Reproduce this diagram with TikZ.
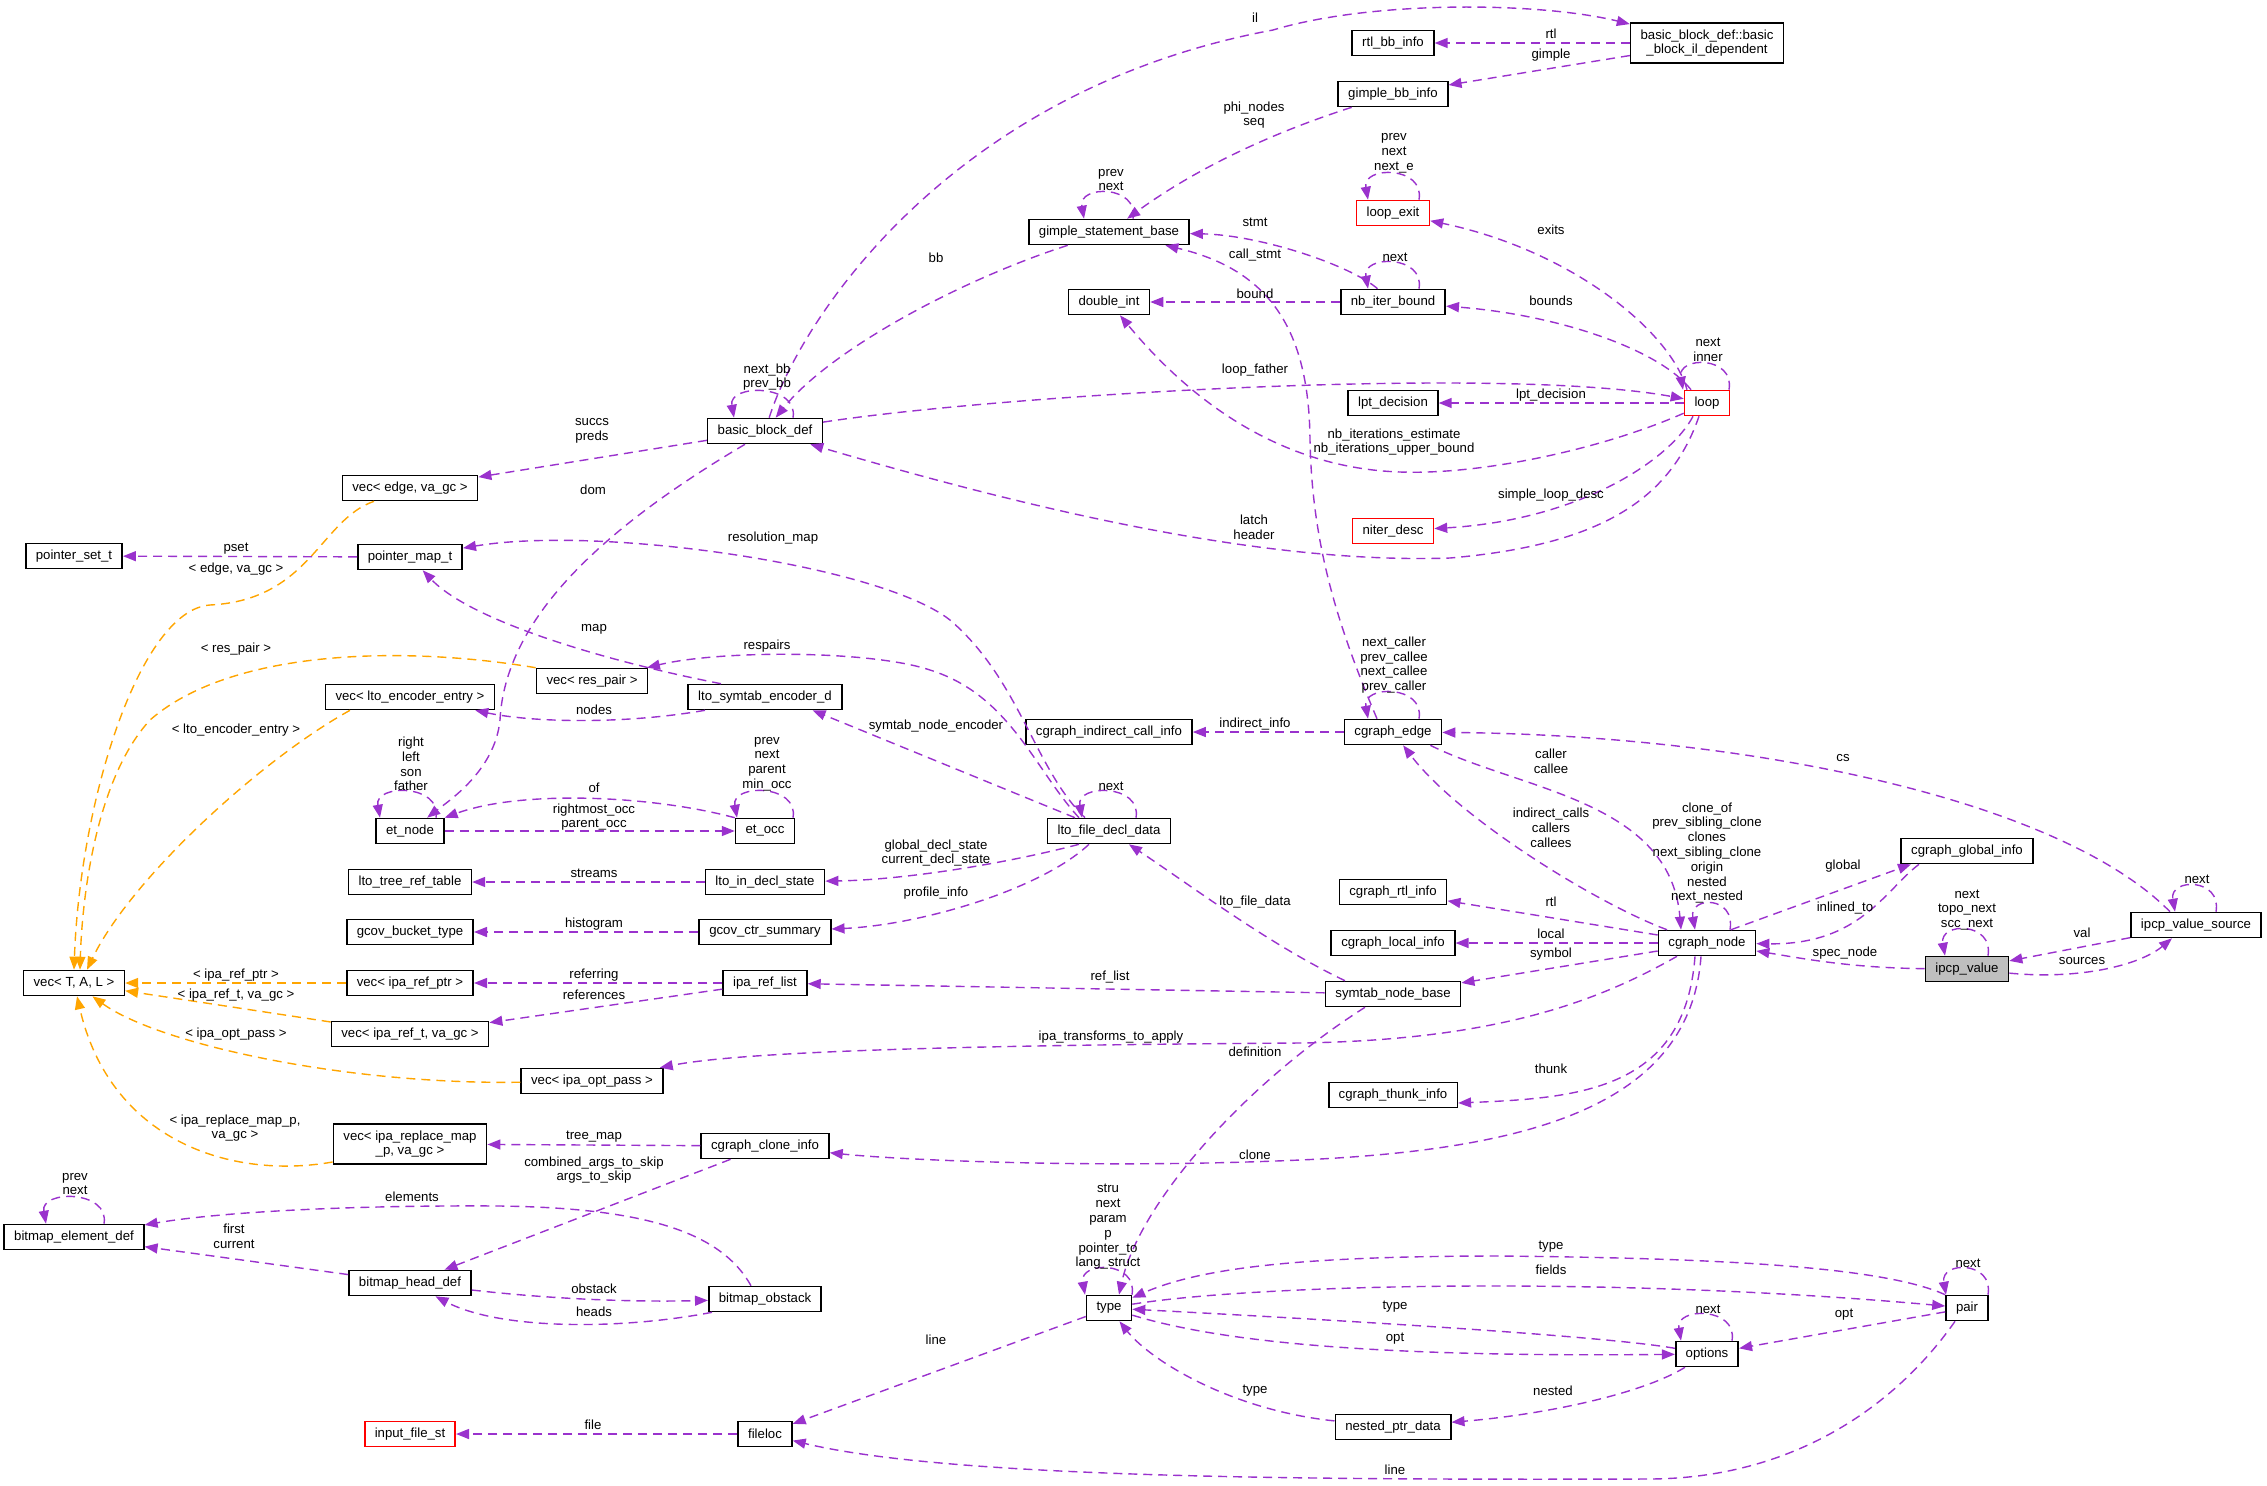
\documentclass[tikz,border=0pt]{standalone}
\usepackage{fontspec}
\setmainfont{Liberation Sans}
\usepackage{tikz}
\usetikzlibrary{arrows.meta}
\definecolor{relcol}{HTML}{9A32CD}
\definecolor{tplcol}{HTML}{FFA500}
\newcommand{\dotfont}{\fontsize{6.6pt}{7.4pt}\selectfont}

\begin{document}
\begin{tikzpicture}[x=0.5pt,y=-0.5pt]
\tikzstyle{box}=[draw,line width=0.8pt,fill=white,font=\dotfont,align=center,inner xsep=5pt,inner ysep=0pt,minimum height=12.5pt]
\tikzstyle{redbox}=[box,draw=red]
\tikzstyle{tall}=[box,minimum height=20pt]
\tikzstyle{lbl}=[font=\dotfont,align=center,inner sep=0pt]
\tikzstyle{rel}=[relcol,line width=0.7pt,dash pattern=on 4.5pt off 3pt,-{Triangle[length=6.5pt,width=5pt]}]
\tikzstyle{tpl}=[rel,tplcol]
\useasboundingbox (0,0) rectangle (2267,1485);

% classes, column by column
\node[box] (vectal) at (74,983) {vec< T, A, L >};
\node[box] (pset) at (74,556) {pointer\_set\_t};
\node[box] (bmelem) at (74,1237) {bitmap\_element\_def};
\node[box] (vecedge) at (410,488) {vec< edge, va\_gc >};
\node[box] (pmap) at (410,557) {pointer\_map\_t};
\node[box] (vecenc) at (410,697) {vec< lto\_encoder\_entry >};
\node[box] (etnode) at (410,831) {et\_node};
\node[box] (ltotree) at (410,882) {lto\_tree\_ref\_table};
\node[box] (gcovbt) at (410,932) {gcov\_bucket\_type};
\node[box] (vecptr) at (410,983) {vec< ipa\_ref\_ptr >};
\node[box] (vecreft) at (410,1034) {vec< ipa\_ref\_t, va\_gc >};
\node[tall] (vecrepl) at (410,1144) {vec< ipa\_replace\_map\\\_p, va\_gc >};
\node[box] (bmhead) at (410,1283) {bitmap\_head\_def};
\node[redbox] (infile) at (410,1434) {input\_file\_st};
\node[box] (vecres) at (592,681) {vec< res\_pair >};
\node[box] (vecopt) at (592,1081) {vec< ipa\_opt\_pass >};
\node[box] (bbd) at (765,431) {basic\_block\_def};
\node[box] (symenc) at (765,697) {lto\_symtab\_encoder\_d};
\node[box] (etocc) at (765,831) {et\_occ};
\node[box] (lidecl) at (765,882) {lto\_in\_decl\_state};
\node[box] (gcovcs) at (765,932) {gcov\_ctr\_summary};
\node[box] (iparef) at (765,983) {ipa\_ref\_list};
\node[box] (cgclone) at (765,1146) {cgraph\_clone\_info};
\node[box] (bmobst) at (765,1299) {bitmap\_obstack};
\node[box] (fileloc) at (765,1434) {fileloc};
\node[box] (gsb) at (1109,232) {gimple\_statement\_base};
\node[box] (dint) at (1109,302) {double\_int};
\node[box] (cgind) at (1109,732) {cgraph\_indirect\_call\_info};
\node[box] (lfdd) at (1109,831) {lto\_file\_decl\_data};
\node[box] (type) at (1109,1308) {type};
\node[box] (rtlbb) at (1393,43) {rtl\_bb\_info};
\node[box] (gimplebb) at (1393,94) {gimple\_bb\_info};
\node[redbox] (loopexit) at (1393,213) {loop\_exit};
\node[box] (nbiter) at (1393,302) {nb\_iter\_bound};
\node[box] (lpt) at (1393,403) {lpt\_decision};
\node[redbox] (niter) at (1393,531) {niter\_desc};
\node[box] (cgedge) at (1393,732) {cgraph\_edge};
\node[box] (cgrtl) at (1393,892) {cgraph\_rtl\_info};
\node[box] (cglocal) at (1393,943) {cgraph\_local\_info};
\node[box] (snb) at (1393,994) {symtab\_node\_base};
\node[box] (cgthunk) at (1393,1095) {cgraph\_thunk\_info};
\node[box] (nested) at (1393,1427) {nested\_ptr\_data};
\node[tall] (ildep) at (1707,43) {basic\_block\_def::basic\\\_block\_il\_dependent};
\node[redbox] (loop) at (1707,403) {loop};
\node[box] (cgnode) at (1707,943) {cgraph\_node};
\node[box] (options) at (1707,1354) {options};
\node[box] (cgglob) at (1967,851) {cgraph\_global\_info};
\node[box,fill=gray!50] (ipcp) at (1967,969) {ipcp\_value};
\node[box] (pair) at (1967,1308) {pair};
\node[box] (ivsrc) at (2196,925) {ipcp\_value\_source};

% basic blocks and loops
\draw[rel] (bbd) .. controls (800,320) and (950,90) .. (1273,30) .. controls (1373,0) and (1540,2) .. (ildep);
\draw[rel] (ildep) -- (rtlbb);
\draw[rel] (ildep) -- (gimplebb);
\draw[rel] (gimplebb) .. controls (1250,140) and (1180,180) .. (gsb);
\draw[rel] ([xshift=12pt]gsb.north) .. controls +(3pt,17pt) and +(-3pt,17pt) .. ([xshift=-12.5pt]gsb.north);
\draw[rel] (gsb) .. controls (960,280) and (830,350) .. (bbd);
\draw[rel] ([xshift=14pt]bbd.north) .. controls +(3pt,17pt) and +(-3pt,17pt) .. ([xshift=-15.5pt]bbd.north);
\draw[rel] (nbiter) -- (dint);
\draw[rel] (nbiter) .. controls (1350,265) and (1260,235) .. (gsb);
\draw[rel] ([xshift=13pt]nbiter.north) .. controls +(3pt,17pt) and +(-3pt,17pt) .. ([xshift=-12.5pt]nbiter.north);
\draw[rel] ([xshift=13pt]loopexit.north) .. controls +(3pt,17pt) and +(-3pt,17pt) .. ([xshift=-12.5pt]loopexit.north);
\draw[rel] ([xshift=-10pt]loop.north) .. controls (1670,330) and (1570,250) .. (loopexit);
\draw[rel] ([xshift=-8pt]loop.north) .. controls (1660,350) and (1560,315) .. (nbiter);
\draw[rel] (loop) -- (lpt);
\draw[rel] (bbd) .. controls (1000,395) and (1500,365) .. (loop);
\draw[rel] ([xshift=11pt]loop.north) .. controls +(3pt,17pt) and +(-3pt,17pt) .. ([xshift=-12pt]loop.north);
\draw[rel] (loop) .. controls (1600,450) and (1480,475) .. (1400,472) .. controls (1280,468) and (1190,400) .. (dint);
\draw[rel] ([xshift=-7pt]loop.south) .. controls (1670,460) and (1580,520) .. (niter);
\draw[rel] ([xshift=-4pt]loop.south) .. controls (1670,500) and (1600,545) .. (1450,558) .. controls (1250,565) and (1000,500) .. (bbd);

% call graph
\draw[rel] ([xshift=-8pt]cgedge.north) .. controls (1335,620) and (1312,540) .. (1310,440) .. controls (1309,330) and (1270,270) .. (gsb);
\draw[rel] ([xshift=13pt]cgedge.north) .. controls +(3pt,17pt) and +(-3pt,17pt) .. ([xshift=-12.5pt]cgedge.north);
\draw[rel] (cgedge) -- (cgind);
\draw[rel] ([xshift=-13pt]ivsrc.north) .. controls (2060,800) and (1750,735) .. (cgedge);
\draw[rel] ([xshift=-20pt]cgnode.north) .. controls (1600,905) and (1460,820) .. (cgedge);
\draw[rel] ([xshift=-6pt]cgedge.south east) .. controls (1520,790) and (1670,800) .. ([xshift=-13pt]cgnode.north);
\draw[rel] ([xshift=11.5pt]cgnode.north) .. controls +(3pt,17pt) and +(-3pt,17pt) .. ([xshift=-6pt]cgnode.north);
\draw[rel] ([xshift=12pt]cgnode.north) -- ([xshift=-28pt]cgglob.south);
\draw[rel] ([xshift=-24pt]cgglob.south) .. controls (1885,890) and (1860,945) .. (cgnode);
\draw[rel] (ipcp) .. controls (1850,968) and (1800,958) .. (cgnode);
\draw[rel] ([xshift=10.5pt]ipcp.north) .. controls +(3pt,17pt) and +(-3pt,17pt) .. ([xshift=-11pt]ipcp.north);
\draw[rel] (ivsrc) -- (ipcp);
\draw[rel] (ipcp) .. controls (2080,980) and (2140,965) .. ([xshift=-12pt]ivsrc.south);
\draw[rel] ([xshift=10pt]ivsrc.north) .. controls +(3pt,17pt) and +(-3pt,17pt) .. ([xshift=-10.5pt]ivsrc.north);
\draw[rel] (cgnode) -- (cgrtl);
\draw[rel] (cgnode) -- (cglocal);
\draw[rel] (cgnode) -- (snb);
\draw[rel] ([xshift=-24pt]snb.north) .. controls (1270,945) and (1190,885) .. (lfdd);
\draw[rel] (snb) -- (iparef);
\draw[rel] ([xshift=-14pt]snb.south) .. controls (1250,1080) and (1140,1200) .. ([xshift=5pt]type.north);
\draw[rel] ([xshift=-15pt]cgnode.south) .. controls (1600,1000) and (1500,1040) .. (1300,1043) .. controls (1000,1045) and (750,1050) .. (vecopt);
\draw[rel] ([xshift=-6pt]cgnode.south) .. controls (1685,1090) and (1580,1098) .. ([yshift=-4pt]cgthunk.east);
\draw[rel] ([xshift=-3pt]cgnode.south) .. controls (1690,1110) and (1520,1150) .. (1300,1160) .. controls (1100,1169) and (900,1160) .. (cgclone);

% types and options
\draw[rel] (pair.north west) .. controls (1880,1265) and (1700,1258) .. (1500,1256) .. controls (1300,1256) and (1200,1268) .. (type);
\draw[rel] (type) .. controls (1250,1285) and (1600,1275) .. (pair);
\draw[rel] ([xshift=10.5pt]pair.north) .. controls +(3pt,17pt) and +(-3pt,17pt) .. ([xshift=-10.5pt]pair.north);
\draw[rel] ([xshift=11.5pt]type.north) .. controls +(3pt,17pt) and +(-3pt,17pt) .. ([xshift=-12pt]type.north);
\draw[rel] ([xshift=12.5pt]options.north) .. controls +(3pt,17pt) and +(-3pt,17pt) .. ([xshift=-13pt]options.north);
\draw[rel] (options) .. controls (1600,1335) and (1300,1318) .. (type);
\draw[rel] (type) .. controls (1230,1345) and (1400,1357) .. (options);
\draw[rel] (pair) -- (options);
\draw[rel] (nested) .. controls (1230,1410) and (1150,1360) .. (type);
\draw[rel] ([xshift=-11pt]options.south) .. controls (1640,1395) and (1540,1415) .. (nested);
\draw[rel] ([xshift=-6pt]pair.south) .. controls (1900,1400) and (1800,1478) .. (1650,1479) .. controls (1300,1480) and (950,1478) .. (fileloc);
\draw[rel] (type) -- (fileloc);
\draw[rel] (fileloc) -- (infile);

% bitmaps
\draw[rel] (bmhead) .. controls (560,1300) and (640,1302) .. (bmobst);
\draw[rel] ([xshift=2pt]bmobst.south west) .. controls (620,1330) and (500,1330) .. (bmhead);
\draw[rel] ([xshift=-7pt]bmobst.north) .. controls (720,1230) and (640,1208) .. (500,1206) .. controls (350,1205) and (220,1212) .. (bmelem);
\draw[rel] ([xshift=15pt]bmelem.north) .. controls +(3pt,17pt) and +(-3pt,17pt) .. ([xshift=-14pt]bmelem.north);
\draw[rel] (bmhead) -- (bmelem);
\draw[rel] (cgclone) -- (bmhead);
\draw[rel] (cgclone) -- (vecrepl);

% template instances
\draw[tpl] ([yshift=-9pt]vecrepl.west) .. controls (230,1180) and (110,1140) .. (vectal);
\draw[tpl] (vecopt) .. controls (350,1085) and (160,1045) .. (vectal);
\draw[tpl] (vecreft) -- (vectal);
\draw[tpl] (vecptr) -- (vectal);
\draw[tpl] ([xshift=-30pt]vecenc.south) .. controls (260,760) and (130,880) .. ([xshift=6.5pt]vectal.north);
\draw[tpl] (vecres.north west) .. controls (400,645) and (230,650) .. (150,720) .. controls (95,780) and (82,900) .. ([xshift=3pt]vectal.north);
\draw[tpl] ([xshift=-18pt]vecedge.south) .. controls (320,520) and (310,600) .. (210,605) .. controls (140,610) and (80,800) .. (vectal.north);

% lto, et and ipa refs
\draw[rel] (pmap) -- (pset);
\draw[rel] ([xshift=-12pt]lfdd.north) .. controls (1035,770) and (1020,680) .. (950,620) .. controls (880,565) and (600,525) .. (pmap);
\draw[rel] ([xshift=-22pt]symenc.north) .. controls (600,660) and (470,620) .. (pmap);
\draw[rel] ([xshift=-15pt]lfdd.north) .. controls (1035,770) and (1010,695) .. (930,670) .. controls (870,650) and (720,650) .. (vecres);
\draw[rel] ([xshift=-17pt]lfdd.north) -- ([xshift=-15pt]symenc.south east);
\draw[rel] ([xshift=-30pt]symenc.south) .. controls (620,725) and (530,722) .. ([xshift=-10pt]vecenc.south east);
\draw[rel] ([xshift=13.5pt]lfdd.north) .. controls +(3pt,17pt) and +(-3pt,17pt) .. ([xshift=-13.5pt]lfdd.north);
\draw[rel] ([xshift=-15pt]lfdd.south) .. controls (1000,865) and (900,880) .. (lidecl);
\draw[rel] ([xshift=-10pt]lfdd.south) .. controls (1040,890) and (920,925) .. (gcovcs);
\draw[rel] (lidecl) -- (ltotree);
\draw[rel] (gcovcs) -- (gcovbt);
\draw[rel] ([xshift=-10pt]bbd.south) .. controls (600,530) and (505,620) .. (500,720) .. controls (495,770) and (450,800) .. (etnode);
\draw[rel] (bbd) -- (vecedge);
\draw[rel] ([xshift=13pt]etnode.north) .. controls +(3pt,17pt) and +(-3pt,17pt) .. ([xshift=-15pt]etnode.north);
\draw[rel] (etocc.north west) .. controls (650,795) and (520,790) .. (etnode.north east);
\draw[rel] (etnode) -- (etocc);
\draw[rel] ([xshift=14pt]etocc.north) .. controls +(3pt,17pt) and +(-3pt,17pt) .. ([xshift=-14pt]etocc.north);
\draw[rel] (iparef) -- (vecptr);
\draw[rel] (iparef) -- (vecreft);

% member labels
\node[lbl] (lil) at (1255,18) {il};
\node[lbl] (lrtl) at (1551,34) {rtl};
\node[lbl] (lgimple) at (1551,55) {gimple};
\node[lbl] (lphi) at (1254,115) {phi\_nodes\\seq};
\node[lbl] (lgsbloop) at (1111,180) {prev\\next};
\node[lbl] (lbb) at (936,258) {bb};
\node[lbl] (lbbdloop) at (767,377) {next\_bb\\prev\_bb};
\node[lbl] (lbound) at (1255,294) {bound};
\node[lbl] (lstmt) at (1255,222) {stmt};
\node[lbl] (lnbloop) at (1395,257) {next};
\node[lbl] (lexitloop) at (1394,153) {prev\\next\\next\_e};
\node[lbl] (lexits) at (1551,230) {exits};
\node[lbl] (lbounds) at (1551,301) {bounds};
\node[lbl] (llpt) at (1551,395) {lpt\_decision};
\node[lbl] (lfather) at (1255,370) {loop\_father};
\node[lbl] (lloop) at (1708,350) {next\\inner};
\node[lbl] (lnbit) at (1394,442) {nb\_iterations\_estimate\\nb\_iterations\_upper\_bound};
\node[lbl] (lsimple) at (1551,495) {simple\_loop\_desc};
\node[lbl] (llatch) at (1254,527) {latch\\header};
\node[lbl] (lcall) at (1255,255) {call\_stmt};
\node[lbl] (ledgeloop) at (1394,665) {next\_caller\\prev\_callee\\next\_callee\\prev\_caller};
\node[lbl] (lindinfo) at (1255,724) {indirect\_info};
\node[lbl] (lcs) at (1843,758) {cs};
\node[lbl] (lindcalls) at (1551,828) {indirect\_calls\\callers\\callees};
\node[lbl] (lcaller) at (1551,761) {caller\\callee};
\node[lbl] (lnodeloop) at (1707,853) {clone\_of\\prev\_sibling\_clone\\clones\\next\_sibling\_clone\\origin\\nested\\next\_nested};
\node[lbl] (lglobal) at (1843,866) {global};
\node[lbl] (linlined) at (1845,908) {inlined\_to};
\node[lbl] (lspec) at (1845,953) {spec\_node};
\node[lbl] (lipcploop) at (1967,910) {next\\topo\_next\\scc\_next};
\node[lbl] (lval) at (2082,933) {val};
\node[lbl] (lsources) at (2082,961) {sources};
\node[lbl] (lsrcloop) at (2197,879) {next};
\node[lbl] (lcgrtl) at (1551,902) {rtl};
\node[lbl] (llocal) at (1551,934) {local};
\node[lbl] (lsymbol) at (1551,954) {symbol};
\node[lbl] (lltofile) at (1255,902) {lto\_file\_data};
\node[lbl] (lreflist) at (1110,977) {ref\_list};
\node[lbl] (ldef) at (1255,1052) {definition};
\node[lbl] (ltransf) at (1111,1037) {ipa\_transforms\_to\_apply};
\node[lbl] (lthunk) at (1551,1069) {thunk};
\node[lbl] (lclone) at (1255,1155) {clone};
\node[lbl] (ltypepair) at (1551,1247) {type};
\node[lbl] (lfields) at (1551,1270) {fields};
\node[lbl] (lpairloop) at (1968,1263) {next};
\node[lbl] (ltypeopt) at (1395,1307) {type};
\node[lbl] (loptopt) at (1395,1339) {opt};
\node[lbl] (loptloop) at (1708,1309) {next};
\node[lbl] (loptpair) at (1844,1315) {opt};
\node[lbl] (ltypenest) at (1255,1391) {type};
\node[lbl] (lnested) at (1553,1391) {nested};
\node[lbl] (llinepair) at (1395,1470) {line};
\node[lbl] (llinetype) at (936,1340) {line};
\node[lbl] (ltypeloop) at (1108,1227) {stru\\next\\param\\p\\pointer\_to\\lang\_struct};
\node[lbl] (lfile) at (593,1425) {file};
\node[lbl] (lobstack) at (594,1289) {obstack};
\node[lbl] (lheads) at (594,1312) {heads};
\node[lbl] (lelements) at (412,1197) {elements};
\node[lbl] (lelemloop) at (75,1184) {prev\\next};
\node[lbl] (lfirst) at (234,1236) {first\\current};
\node[lbl] (lcombined) at (594,1170) {combined\_args\_to\_skip\\args\_to\_skip};
\node[lbl] (ltreemap) at (594,1137) {tree\_map};
\node[lbl] (lreplmap) at (235,1128) {< ipa\_replace\_map\_p,\\va\_gc >};
\node[lbl] (loptpass) at (236,1034) {< ipa\_opt\_pass >};
\node[lbl] (lreft) at (236,995) {< ipa\_ref\_t, va\_gc >};
\node[lbl] (lrefptr) at (236,975) {< ipa\_ref\_ptr >};
\node[lbl] (lreferring) at (594,975) {referring};
\node[lbl] (lreferences) at (594,995) {references};
\node[lbl] (lencentry) at (236,730) {< lto\_encoder\_entry >};
\node[lbl] (lrespair) at (236,649) {< res\_pair >};
\node[lbl] (ledgegc) at (236,569) {< edge, va\_gc >};
\node[lbl] (lpset) at (236,549) {pset};
\node[lbl] (lresmap) at (773,538) {resolution\_map};
\node[lbl] (lmap) at (594,629) {map};
\node[lbl] (lrespairs) at (767,646) {respairs};
\node[lbl] (lsymenc) at (936,726) {symtab\_node\_encoder};
\node[lbl] (lnodes) at (594,710) {nodes};
\node[lbl] (lfddloop) at (1111,786) {next};
\node[lbl] (ldeclstate) at (936,853) {global\_decl\_state\\current\_decl\_state};
\node[lbl] (lprofile) at (936,893) {profile\_info};
\node[lbl] (lstreams) at (594,873) {streams};
\node[lbl] (lhisto) at (594,924) {histogram};
\node[lbl] (ldom) at (593,490) {dom};
\node[lbl] (lsuccs) at (592,431) {succs\\preds};
\node[lbl] (letnodeloop) at (411,764) {right\\left\\son\\father};
\node[lbl] (lof) at (594,788) {of};
\node[lbl] (lrightmost) at (594,817) {rightmost\_occ\\parent\_occ};
\node[lbl] (letoccloop) at (767,764) {prev\\next\\parent\\min\_occ};
\end{tikzpicture}
\end{document}
